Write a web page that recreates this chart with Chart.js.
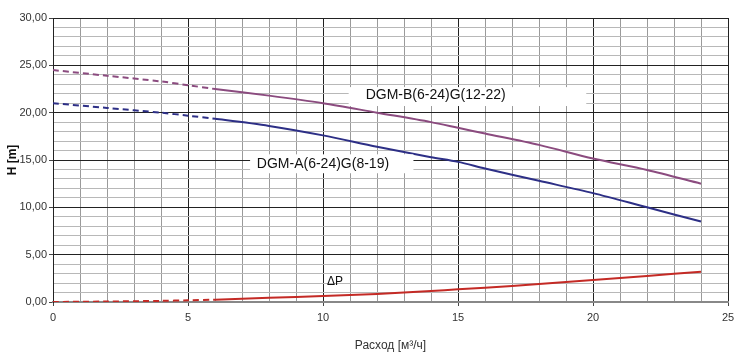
<!DOCTYPE html>
<html><head><meta charset="utf-8">
<script src="https://cdn.jsdelivr.net/npm/chart.js@4/dist/chart.umd.min.js"></script>
<style>html,body{margin:0;padding:0;background:#fff}#wrap{width:740px;height:357px}</style>
</head><body><div id="wrap"><canvas id="c"></canvas></div>
<script>
const flow = [0, 2, 4, 5, 6, 8, 10, 12, 14, 15, 16, 18, 20, 22, 24];
const headB = [24.5, 23.9, 23.3, 22.9, 22.5, 21.8, 21.0, 20.0, 19.0, 18.4, 17.8, 16.6, 15.15, 13.95, 12.5];
const headA = [21.0, 20.5, 20.0, 19.68, 19.35, 18.6, 17.6, 16.4, 15.3, 14.8, 14.1, 12.8, 11.5, 10.0, 8.5];
const deltaP = [0, 0.05, 0.12, 0.18, 0.25, 0.45, 0.63, 0.85, 1.15, 1.34, 1.5, 1.9, 2.32, 2.75, 3.2];
const seriesNames = ['DGM-B(6-24)G(12-22)', 'DGM-A(6-24)G(8-19)', '\u0394P'];
const dashEnd = 6;
const xTitle = 'Расход [м³/ч]';
const yTitle = 'H [m]';

const FONT = '"Liberation Sans", Arial, sans-serif';
function pts(ys){ return flow.map((x,i)=>({x, y: ys[i]})); }
const dashSeg = { borderDash: ctx => ctx.p1.parsed.x <= dashEnd ? [6,4] : undefined };

const labelPlugin = {
  id: 'labels',
  afterDatasetsDraw(chart){
    const {ctx, scales:{x, y}} = chart;
    ctx.save();
    ctx.font = '14px ' + FONT;
    ctx.textBaseline = 'middle';
    ctx.textAlign = 'left';
    let bx0 = x.getPixelForValue(10.95), bx1 = x.getPixelForValue(19.75);
    let by0 = y.getPixelForValue(22.7), by1 = y.getPixelForValue(20.7);
    ctx.fillStyle = '#fff';
    ctx.fillRect(bx0, by0, bx1-bx0, by1-by0);
    ctx.fillStyle = '#111';
    ctx.fillText(seriesNames[0], x.getPixelForValue(11.58), y.getPixelForValue(21.9));
    let ax0 = x.getPixelForValue(7.3), ax1 = x.getPixelForValue(13.35);
    let ay0 = y.getPixelForValue(15.6), ay1 = y.getPixelForValue(13.6);
    ctx.fillStyle = '#fff';
    ctx.fillRect(ax0, ay0, ax1-ax0, ay1-ay0);
    ctx.fillStyle = '#111';
    ctx.fillText(seriesNames[1], x.getPixelForValue(7.55), y.getPixelForValue(14.6));
    ctx.font = '12px ' + FONT;
    ctx.fillText(seriesNames[2], x.getPixelForValue(10.15), y.getPixelForValue(2.1));
    ctx.restore();
  }
};

new Chart(document.getElementById('c'), {
  type: 'line',
  data: { datasets: [
    { label: seriesNames[0], data: pts(headB), borderColor: '#8b4b7f', borderWidth: 2, pointRadius: 0, tension: 0.3, segment: dashSeg },
    { label: seriesNames[1], data: pts(headA), borderColor: '#2d2f86', borderWidth: 2, pointRadius: 0, tension: 0.3, segment: dashSeg },
    { label: seriesNames[2], data: pts(deltaP), borderColor: '#c42a25', borderWidth: 2, pointRadius: 0, tension: 0.3, segment: dashSeg }
  ]},
  options: {
    responsive: true, maintainAspectRatio: false, animation: false,
    layout: { padding: { top: 18, right: 12, left: 0, bottom: 0 } },
    plugins: { legend: { display: false }, tooltip: { enabled: false } },
    scales: {
      x: {
        type: 'linear', min: 0, max: 25,
        afterFit: s => { s.height = 55; },
        ticks: { stepSize: 1, autoSkip: false, maxRotation: 0, padding: 5, color: '#333',
          font: { family: FONT, size: 11 },
          callback: v => v % 5 === 0 ? String(v) : '' },
        grid: { color: c => c.tick && c.tick.value % 5 === 0 ? '#222' : '#9a9a9a',
          tickColor: c => c.tick && c.tick.value % 5 === 0 ? '#444' : 'rgba(0,0,0,0)', tickLength: 4 },
        border: { color: '#888', width: 2 },
        title: { display: true, text: xTitle, color: '#333', font: { family: FONT, size: 12 }, padding: { top: 5 } }
      },
      y: {
        min: 0, max: 30,
        afterFit: s => { s.width = 53; },
        ticks: { stepSize: 1, autoSkip: false, padding: 2, color: '#333',
          font: { family: FONT, size: 11 },
          callback: v => v % 5 === 0 ? v.toFixed(2).replace('.', ',') : '' },
        grid: { color: c => c.tick && c.tick.value === 0 ? '#888' : (c.tick && c.tick.value % 5 === 0 ? '#222' : '#b8b8b8'),
          tickColor: c => c.tick && c.tick.value % 5 === 0 ? '#444' : 'rgba(0,0,0,0)', tickLength: 4 },
        border: { color: '#222', width: 1 },
        title: { display: true, text: yTitle, color: '#111', font: { family: FONT, size: 12, weight: 'bold' }, padding: { top: 5, bottom: 0 } }
      }
    }
  },
  plugins: [labelPlugin]
});
</script></body></html>
